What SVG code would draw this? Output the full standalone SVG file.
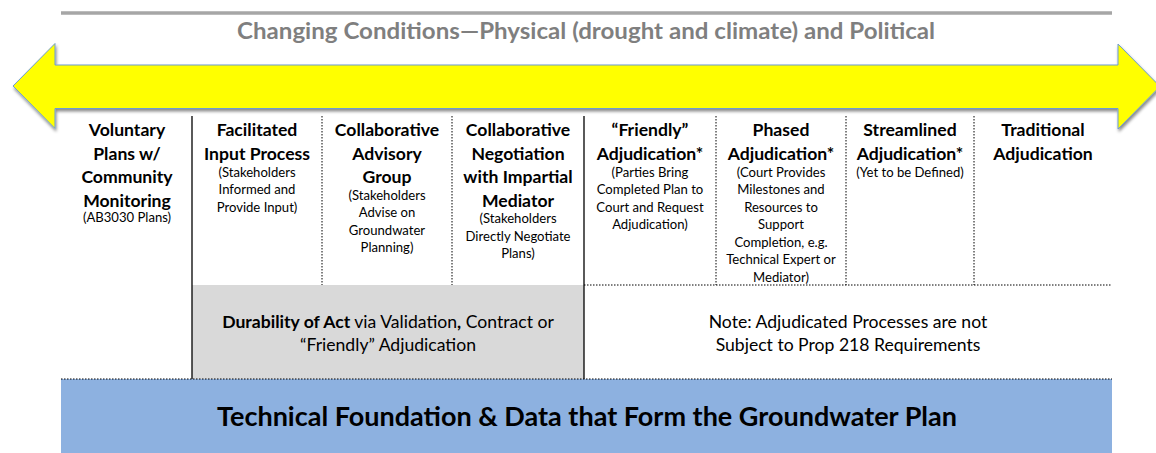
<svg xmlns="http://www.w3.org/2000/svg" width="1156" height="453" viewBox="0 0 1156 453">
  <defs>
    <filter id="arrowShadow" x="-5%" y="-30%" width="110%" height="160%">
      <feDropShadow dx="1" dy="2.5" stdDeviation="1.8" flood-color="#000" flood-opacity="0.45"/>
    </filter>
  </defs>
  <style>
    text { font-family: Lato, "Open Sans", "Liberation Sans", sans-serif; fill: #000; text-anchor: middle; }
    .head { font-size: 17.6px; font-weight: 700; }
    .sub { font-size: 13.1px; font-weight: 400; }
    .title { font-size: 22px; font-weight: 700; fill: #7f7f7f; }
    .band { font-size: 17.6px; font-weight: 400; }
    .foundation { font-size: 27px; font-weight: 700; }
    .solid { stroke: #000; stroke-width: 1.3; fill: none; }
    .dotted { stroke: #000; stroke-width: 1; stroke-dasharray: 1.5 1.5; fill: none; }
  </style>

  <rect width="1156" height="453" fill="#fff"/>

  <!-- banner: rule, heading and two-way arrow -->
  <g id="banner">
    <line x1="61" y1="13" x2="1112" y2="13" stroke="#a6a6a6" stroke-width="3.5"/>
    <text class="title" x="586" y="38.5" textLength="698" lengthAdjust="spacingAndGlyphs">Changing Conditions—Physical (drought and climate) and Political</text>
    <path d="M13,86 L55,43.5 L55,65 L1118,65 L1118,44 L1160,86.5 L1118,129 L1118,108.5 L55,108.5 L55,128.5 Z"
          fill="#ffff00" stroke="#6d9bd1" stroke-width="1" stroke-linejoin="miter" filter="url(#arrowShadow)"/>
  </g>

  <!-- shaded and coloured bands under the columns -->
  <g id="durability">
    <rect x="192" y="285" width="392" height="94" fill="#d9d9d9"/>
    <text class="band" x="388" y="328"><tspan font-weight="700">Durability of Act</tspan> via Validation<tspan font-weight="700">,</tspan> Contract or</text>
    <text class="band" x="388" y="351">“Friendly” Adjudication</text>
  </g>
  <g id="note">
    <text class="band" x="848" y="328">Note: Adjudicated Processes are not</text>
    <text class="band" x="848" y="351">Subject to Prop 218 Requirements</text>
  </g>
  <g id="foundation">
    <rect x="61" y="379" width="1051" height="74" fill="#8db1e0"/>
    <text class="foundation" x="587" y="425.5">Technical Foundation &amp; Data that Form the Groundwater Plan</text>
  </g>

  <!-- table rules -->
  <g id="connectors">
    <line class="solid" x1="192" y1="116" x2="192" y2="379"/>
    <line class="solid" x1="584" y1="116" x2="584" y2="379"/>
    <line class="dotted" x1="322" y1="116" x2="322" y2="285"/>
    <line class="dotted" x1="452" y1="116" x2="452" y2="285"/>
    <line class="dotted" x1="716" y1="116" x2="716" y2="285"/>
    <line class="dotted" x1="846" y1="116" x2="846" y2="285"/>
    <line class="dotted" x1="974" y1="116" x2="974" y2="285"/>
    <line class="dotted" x1="584" y1="285" x2="1112" y2="285"/>
    <line class="dotted" x1="61" y1="379" x2="1112" y2="379"/>
  </g>

  <!-- process columns -->
  <g id="voluntary">
    <text class="head" x="127" y="136">Voluntary</text>
    <text class="head" x="127" y="159.5">Plans w/</text>
    <text class="head" x="127" y="183">Community</text>
    <text class="head" x="127" y="206.5">Monitoring</text>
    <text class="sub" x="127" y="222">(AB3030 Plans)</text>
  </g>
  <g id="facilitated">
    <text class="head" x="257" y="136">Facilitated</text>
    <text class="head" x="257" y="159.5">Input Process</text>
    <text class="sub" x="257" y="176.5">(Stakeholders</text>
    <text class="sub" x="257" y="194">Informed and</text>
    <text class="sub" x="257" y="211.5">Provide Input)</text>
  </g>
  <g id="advisory">
    <text class="head" x="387" y="136">Collaborative</text>
    <text class="head" x="387" y="159.5">Advisory</text>
    <text class="head" x="387" y="183">Group</text>
    <text class="sub" x="387" y="199.5">(Stakeholders</text>
    <text class="sub" x="387" y="217">Advise on</text>
    <text class="sub" x="387" y="234.5">Groundwater</text>
    <text class="sub" x="387" y="252">Planning)</text>
  </g>
  <g id="negotiation">
    <text class="head" x="518" y="136">Collaborative</text>
    <text class="head" x="518" y="159.5">Negotiation</text>
    <text class="head" x="518" y="183">with Impartial</text>
    <text class="head" x="518" y="206.5">Mediator</text>
    <text class="sub" x="518" y="223">(Stakeholders</text>
    <text class="sub" x="518" y="240.5">Directly Negotiate</text>
    <text class="sub" x="518" y="258">Plans)</text>
  </g>
  <g id="friendly">
    <text class="head" x="650" y="136">“Friendly”</text>
    <text class="head" x="650" y="159.5">Adjudication*</text>
    <text class="sub" x="650" y="176.5">(Parties Bring</text>
    <text class="sub" x="650" y="194">Completed Plan to</text>
    <text class="sub" x="650" y="211.5">Court and Request</text>
    <text class="sub" x="650" y="229">Adjudication)</text>
  </g>
  <g id="phased">
    <text class="head" x="781" y="136">Phased</text>
    <text class="head" x="781" y="159.5">Adjudication*</text>
    <text class="sub" x="781" y="176.5">(Court Provides</text>
    <text class="sub" x="781" y="194">Milestones and</text>
    <text class="sub" x="781" y="211.5">Resources to</text>
    <text class="sub" x="781" y="229">Support</text>
    <text class="sub" x="781" y="246.5">Completion, e.g.</text>
    <text class="sub" x="781" y="264">Technical Expert or</text>
    <text class="sub" x="781" y="281.5">Mediator)</text>
  </g>
  <g id="streamlined">
    <text class="head" x="910" y="136">Streamlined</text>
    <text class="head" x="910" y="159.5">Adjudication*</text>
    <text class="sub" x="910" y="176.5">(Yet to be Defined)</text>
  </g>
  <g id="traditional">
    <text class="head" x="1043" y="136">Traditional</text>
    <text class="head" x="1043" y="159.5">Adjudication</text>
  </g>
</svg>
